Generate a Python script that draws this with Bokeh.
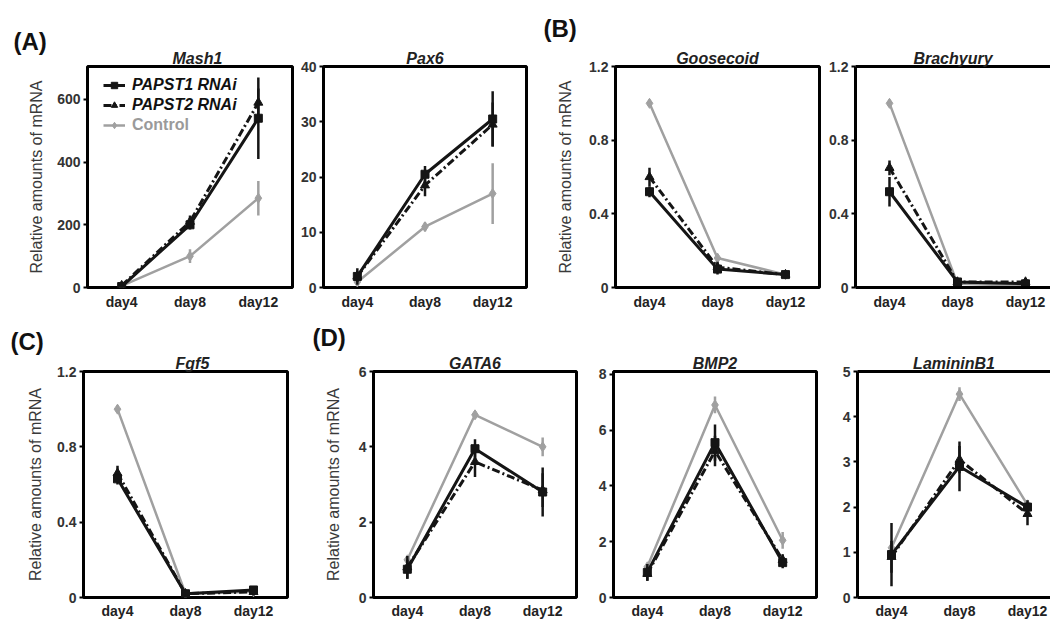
from bokeh.plotting import figure
from bokeh.models import (Range1d, FixedTicker, Title, Legend, LegendItem,
                          ColumnDataSource, LinearAxis)
from bokeh.layouts import row, column
from bokeh.embed import file_html
from bokeh.resources import INLINE

# ---------------- data ----------------
days = ["day4", "day8", "day12"]
series_names = ["PAPST1 RNAi", "PAPST2 RNAi", "Control"]
ylabel = "Relative amounts of mRNA"

mash1_papst1 = [3, 200, 540]
mash1_papst1_err = [4, 15, 130]
mash1_papst2 = [6, 210, 590]
mash1_papst2_err = [4, 20, 45]
mash1_control = [5, 100, 285]
mash1_control_err = [4, 22, 55]
mash1_yticks = [0, 200, 400, 600]

pax6_papst1 = [2.0, 20.5, 30.5]
pax6_papst1_err = [1.5, 1.5, 5.0]
pax6_papst2 = [2.0, 18.5, 29.5]
pax6_papst2_err = [1.0, 2.0, 4.0]
pax6_control = [1.0, 11.0, 17.0]
pax6_control_err = [0.5, 0.8, 5.5]
pax6_yticks = [0, 10, 20, 30, 40]

goosecoid_papst1 = [0.52, 0.10, 0.07]
goosecoid_papst1_err = [0.03, 0.03, 0.02]
goosecoid_papst2 = [0.60, 0.11, 0.07]
goosecoid_papst2_err = [0.05, 0.03, 0.02]
goosecoid_control = [1.00, 0.16, 0.07]
goosecoid_control_err = [0.02, 0.02, 0.01]

brachyury_papst1 = [0.52, 0.03, 0.02]
brachyury_papst1_err = [0.08, 0.01, 0.02]
brachyury_papst2 = [0.65, 0.03, 0.03]
brachyury_papst2_err = [0.04, 0.01, 0.01]
brachyury_control = [1.00, 0.02, 0.01]
brachyury_control_err = [0.02, 0.01, 0.01]

fgf5_papst1 = [0.63, 0.02, 0.04]
fgf5_papst1_err = [0.03, 0.01, 0.02]
fgf5_papst2 = [0.66, 0.02, 0.03]
fgf5_papst2_err = [0.04, 0.01, 0.02]
fgf5_control = [1.00, 0.02, 0.03]
fgf5_control_err = [0.02, 0.01, 0.01]
small_yticks = [0, 0.4, 0.8, 1.2]

gata6_papst1 = [0.75, 3.95, 2.80]
gata6_papst1_err = [0.25, 0.25, 0.65]
gata6_papst2 = [0.80, 3.60, 2.85]
gata6_papst2_err = [0.30, 0.40, 0.45]
gata6_control = [1.00, 4.85, 4.00]
gata6_control_err = [0.10, 0.10, 0.25]
gata6_yticks = [0, 2, 4, 6]

bmp2_papst1 = [0.90, 5.55, 1.25]
bmp2_papst1_err = [0.30, 0.65, 0.20]
bmp2_papst2 = [0.85, 5.25, 1.35]
bmp2_papst2_err = [0.25, 0.55, 0.20]
bmp2_control = [1.10, 6.90, 2.05]
bmp2_control_err = [0.10, 0.30, 0.30]
bmp2_yticks = [0, 2, 4, 6, 8]

laminin_papst1 = [0.95, 2.90, 2.00]
laminin_papst1_err = [0.70, 0.55, 0.15]
laminin_papst2 = [0.90, 3.05, 1.85]
laminin_papst2_err = [0.35, 0.30, 0.25]
laminin_control = [1.10, 4.50, 2.05]
laminin_control_err = [0.10, 0.15, 0.10]
laminin_yticks = [0, 1, 2, 3, 4, 5]

# ---------------- styling ----------------
FONT = "Liberation Sans"
BLACK = "#151515"
GRAY = "#a0a0a0"
styles = {
    "Control": dict(color=GRAY, dash="solid", marker="diamond", size=10, lw=2.5),
    "PAPST2 RNAi": dict(color=BLACK, dash="8 3 2 3", marker="triangle", size=9, lw=3),
    "PAPST1 RNAi": dict(color=BLACK, dash="solid", marker="square", size=8, lw=3),
}
FULL_W = 204
R1 = dict(bt=66, fh=221, bb=30, xs=6)
R2 = dict(bt=54, fh=226, bb=26, xs=5)

panels = [
    # row 1
    dict(gene="Mash1", toff=85, letter="(A)", loff=-74, lso=-14, vals=(mash1_papst1, mash1_papst2, mash1_control),
         errs=(mash1_papst1_err, mash1_papst2_err, mash1_control_err), yticks=mash1_yticks, ymax=705,
         bl=87, fw=205, br=2, yl=True, yls=9, cut=False, legend=True, **R1),
    dict(gene="Pax6", vals=(pax6_papst1, pax6_papst2, pax6_control),
         errs=(pax6_papst1_err, pax6_papst2_err, pax6_control_err), yticks=pax6_yticks, ymax=40,
         bl=29, fw=203, br=2, yl=False, cut=False, **R1),
    dict(gene="Goosecoid", letter="(B)", loff=-72, lso=11, vals=(goosecoid_papst1, goosecoid_papst2, goosecoid_control),
         errs=(goosecoid_papst1_err, goosecoid_papst2_err, goosecoid_control_err), yticks=small_yticks, ymax=1.2,
         bl=87, fw=204, br=2, yl=True, yls=12, cut=False, **R1),
    dict(gene="Brachyury", vals=(brachyury_papst1, brachyury_papst2, brachyury_control),
         errs=(brachyury_papst1_err, brachyury_papst2_err, brachyury_control_err), yticks=small_yticks, ymax=1.2,
         bl=34, fw=195, br=0, yl=False, cut=True, **R1),
    # row 2
    dict(gene="Fgf5", toff=92, letter="(C)", loff=-73, lso=-4, vals=(fgf5_papst1, fgf5_papst2, fgf5_control),
         errs=(fgf5_papst1_err, fgf5_papst2_err, fgf5_control_err), yticks=small_yticks, ymax=1.2,
         bl=83, fw=204, br=2, yl=True, yls=10, cut=False, **R2),
    dict(gene="GATA6", letter="(D)", loff=-61, lso=3, vals=(gata6_papst1, gata6_papst2, gata6_control),
         errs=(gata6_papst1_err, gata6_papst2_err, gata6_control_err), yticks=gata6_yticks, ymax=6,
         bl=84, fw=203, br=2, yl=True, yls=14, cut=False, **R2),
    dict(gene="BMP2", vals=(bmp2_papst1, bmp2_papst2, bmp2_control),
         errs=(bmp2_papst1_err, bmp2_papst2_err, bmp2_control_err), yticks=bmp2_yticks, ymax=8.1,
         bl=35, fw=203, br=2, yl=False, cut=False, **R2),
    dict(gene="LamininB1", vals=(laminin_papst1, laminin_papst2, laminin_control),
         errs=(laminin_papst1_err, laminin_papst2_err, laminin_control_err), yticks=laminin_yticks, ymax=5,
         bl=39, fw=193, br=0, yl=False, cut=True, **R2),
]


def make_panel(cfg):
    xs = list(range(len(days)))
    x_end = -0.5 + len(days) * cfg["fw"] / FULL_W if cfg["cut"] else len(days) - 0.5
    p = figure(frame_width=cfg["fw"], frame_height=cfg["fh"],
               min_border_left=cfg["bl"], min_border_right=cfg["br"],
               min_border_top=cfg["bt"], min_border_bottom=cfg["bb"],
               x_range=Range1d(-0.5, x_end), y_range=Range1d(0, cfg["ymax"]),
               output_backend="svg", toolbar_location=None, title=None)
    p.grid.visible = False
    p.background_fill_color = "white"
    p.border_fill_color = "white"

    # x axis (below)
    xa = p.below[0]
    xa.ticker = FixedTicker(ticks=xs)
    xa.major_label_overrides = {i: d for i, d in enumerate(days)}
    xa.major_tick_out = 0
    xa.major_tick_in = 0
    xa.minor_tick_out = 0
    xa.minor_tick_in = 0
    xa.major_label_standoff = cfg["xs"]
    xa.major_label_text_font = FONT
    xa.major_label_text_font_style = "bold"
    xa.major_label_text_font_size = "14px"
    xa.major_label_text_color = "#222222"

    # y axis (left)
    ya = p.left[0]
    ya.ticker = FixedTicker(ticks=cfg["yticks"])
    ya.major_label_overrides = {0: "0"}
    ya.major_tick_out = 4
    ya.major_tick_in = 0
    ya.major_tick_line_width = 2
    ya.minor_tick_out = 0
    ya.minor_tick_in = 0
    ya.major_label_standoff = 3
    ya.major_label_text_font = FONT
    ya.major_label_text_font_style = "bold"
    ya.major_label_text_font_size = "14px"
    ya.major_label_text_color = "#333333"
    if cfg["yl"]:
        ya.axis_label = ylabel
        ya.axis_label_text_font = FONT
        ya.axis_label_text_font_style = "normal"
        ya.axis_label_text_font_size = "16px"
        ya.axis_label_text_color = "#3a3a3a"
        ya.axis_label_standoff = cfg["yls"]

    if cfg["cut"]:
        # panel runs off the right edge of the page: draw the frame from axis lines
        p.outline_line_color = None
        for ax in (xa, ya):
            ax.axis_line_width = 3
            ax.axis_line_color = "black"
        top = LinearAxis(ticker=FixedTicker(ticks=[]), major_tick_out=0, major_tick_in=0,
                         minor_tick_out=0, minor_tick_in=0, major_label_standoff=0,
                         axis_line_width=3, axis_line_color="black")
        p.add_layout(top, "above")
    else:
        p.outline_line_color = "black"
        p.outline_line_width = 3
        p.outline_line_alpha = 1.0
        xa.axis_line_color = None
        ya.axis_line_color = None

    # series
    rend = {}
    order = ["Control", "PAPST2 RNAi", "PAPST1 RNAi"]
    for name in order:
        idx = series_names.index(name)
        vals = cfg["vals"][idx]
        errs = cfg["errs"][idx]
        st = styles[name]
        src = ColumnDataSource(dict(x=xs, y=vals,
                                    lo=[v - e for v, e in zip(vals, errs)],
                                    hi=[v + e for v, e in zip(vals, errs)]))
        p.segment(x0="x", y0="lo", x1="x", y1="hi", source=src,
                  line_color=st["color"], line_width=2.5)
        ln = p.line("x", "y", source=src, line_color=st["color"], line_width=st["lw"],
                    line_dash=st["dash"])
        sc = p.scatter("x", "y", source=src, marker=st["marker"], size=st["size"],
                       fill_color=st["color"], line_color=st["color"])
        rend[name] = [ln, sc]

    # titles: gene name (nearest the frame), then the panel letter
    if "toff" in cfg:
        gene_title = Title(text=cfg["gene"], align="left", offset=cfg["toff"])
    else:
        gene_title = Title(text=cfg["gene"], align="center")
    gene_title.text_font = FONT
    gene_title.text_font_style = "bold italic"
    gene_title.text_font_size = "16px"
    gene_title.text_color = "#222222"
    gene_title.standoff = 0
    p.add_layout(gene_title, "above")
    if cfg.get("letter"):
        p.add_layout(Title(text=cfg["letter"], align="left", offset=cfg["loff"],
                           text_font=FONT, text_font_style="bold",
                           text_font_size="24px", text_color="#111111",
                           standoff=cfg["lso"]), "above")

    if cfg.get("legend"):
        common = dict(padding=0, margin=0, spacing=2, label_height=16, glyph_height=16,
                      glyph_width=22, label_standoff=7, background_fill_alpha=0,
                      border_line_alpha=0, label_text_font=FONT,
                      label_text_font_size="16px")
        leg1 = Legend(items=[LegendItem(label=n, renderers=rend[n]) for n in series_names[:2]],
                      location=(16, 173), label_text_font_style="bold italic",
                      label_text_color="#111111", **common)
        leg2 = Legend(items=[LegendItem(label=series_names[2], renderers=rend[series_names[2]])],
                      location=(16, 153), label_text_font_style="bold",
                      label_text_color="#9a9a9a", **common)
        p.add_layout(leg1)
        p.add_layout(leg2)
    return p


figs = [make_panel(c) for c in panels]
layout = column(row(*figs[:4]), row(*figs[4:]))

open("out.html", "w").write(file_html(layout, INLINE))
